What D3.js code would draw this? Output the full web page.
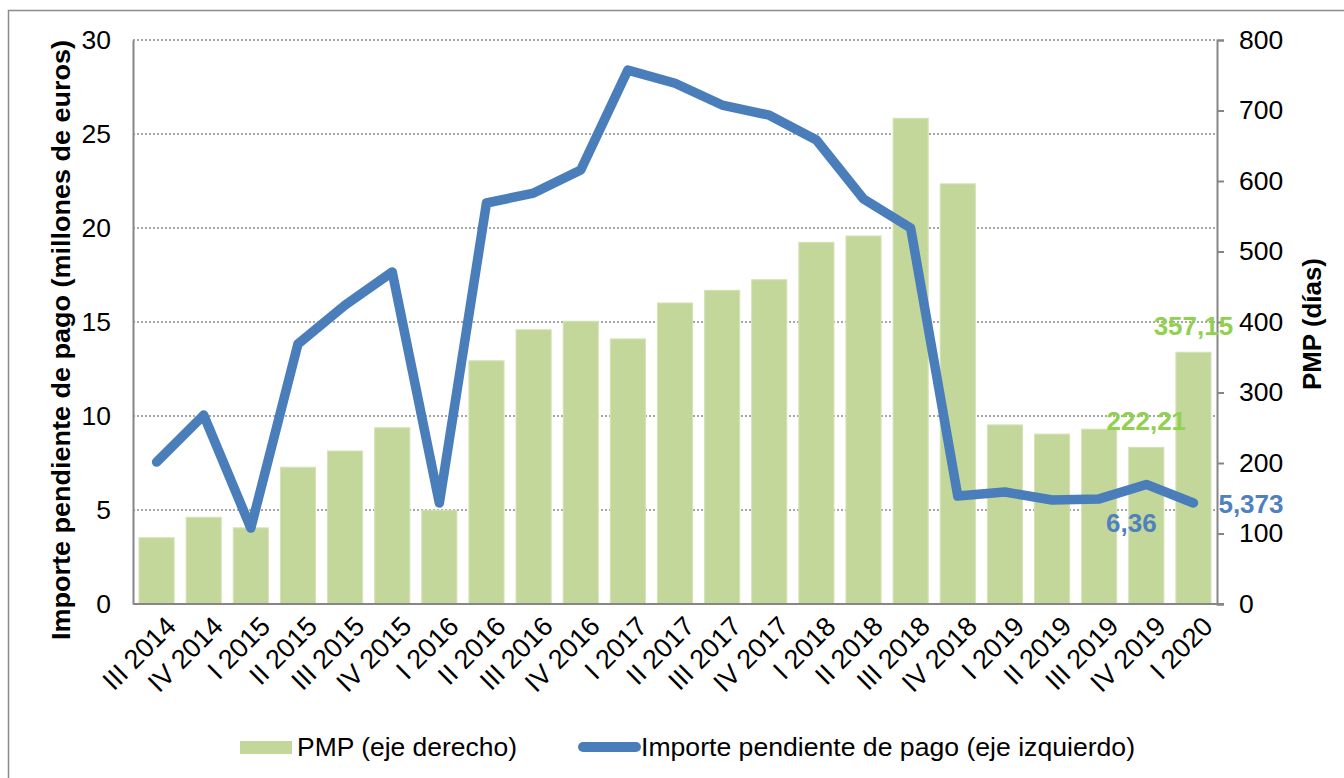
<!DOCTYPE html>
<html><head><meta charset="utf-8">
<script src="https://cdn.jsdelivr.net/npm/d3@7"></script>
<style>
body{margin:0;background:#fff;}
text{font-family:"Liberation Sans",Arial,sans-serif;}
</style></head>
<body><svg id="c" width="1344" height="778"></svg>
<script>
const categories = ["III 2014","IV 2014","I 2015","II 2015","III 2015","IV 2015","I 2016","II 2016","III 2016","IV 2016","I 2017","II 2017","III 2017","IV 2017","I 2018","II 2018","III 2018","IV 2018","I 2019","II 2019","III 2019","IV 2019","I 2020"];
const pmpDays = [94,123,108,194,217,250,133,345,389,401,376,427,445,460,513,522,689,596,254,241,248,222.21,357.15];
const importeMillones = [7.55,10.05,4.04,13.83,15.9,17.66,5.37,21.33,21.86,23.09,28.4,27.7,26.54,26.0,24.68,21.54,20.0,5.74,5.96,5.53,5.59,6.36,5.373];
const leftTicks = [0,5,10,15,20,25,30];
const rightTicks = [0,100,200,300,400,500,600,700,800];
const legendLabels = ["PMP (eje derecho)","Importe pendiente de pago (eje izquierdo)"];
const leftTitle = "Importe pendiente de pago (millones de euros)";
const rightTitle = "PMP (días)";

const svg = d3.select("#c");
const L = 133, R = 1217, T = 40, B = 604;
const green = "#c4d79b", blue = "#4a7ebb", axisCol = "#868686";

// outer border
svg.append("rect").attr("x",8.5).attr("y",10.5).attr("width",1340).attr("height",780)
  .attr("fill","none").attr("stroke","#8c8c8c").attr("stroke-width",1.5);

const x = d3.scaleBand().domain(categories).range([L,R]).paddingInner(0.255).paddingOuter(0.1275);
const yL = d3.scaleLinear().domain([0,30]).range([B,T]);
const yR = d3.scaleLinear().domain([0,800]).range([B,T]);

// gridlines
svg.append("g").selectAll("line").data(leftTicks.filter(d=>d>0)).join("line")
  .attr("x1",L).attr("x2",R).attr("y1",d=>yL(d)).attr("y2",d=>yL(d))
  .attr("stroke","#8a8a8a").attr("stroke-width",1.5).attr("stroke-dasharray","2,2");

// bars
svg.append("g").selectAll("rect").data(pmpDays).join("rect")
  .attr("x",(d,i)=>x(categories[i])).attr("width",x.bandwidth())
  .attr("y",d=>yR(d)).attr("height",d=>B-yR(d))
  .attr("fill",green).attr("stroke","#d4e2b4").attr("stroke-width",1);

// axes
const axL = d3.axisLeft(yL).tickValues(leftTicks).tickSize(0).tickPadding(22);
const gL = svg.append("g").attr("transform",`translate(${L},0)`).call(axL);
const axR = d3.axisRight(yR).tickValues(rightTicks).tickSize(7).tickPadding(15);
const gR = svg.append("g").attr("transform",`translate(${R},0)`).call(axR);
[gL,gR].forEach(g=>{
  g.select(".domain").attr("stroke",axisCol).attr("stroke-width",2);
  g.selectAll(".tick line").attr("stroke",axisCol).attr("stroke-width",2);
  g.selectAll("text").attr("font-size",26.5).attr("fill","#000").attr("font-family","Liberation Sans, Arial, sans-serif");
});
const axB = d3.axisBottom(x).tickSize(0).tickFormat("");
const gB = svg.append("g").attr("transform",`translate(0,${B})`).call(axB);
gB.select(".domain").attr("stroke",axisCol).attr("stroke-width",2).attr("d",`M${L},0H${R+7}`);

// x labels
svg.append("g").selectAll("text").data(categories).join("text")
  .attr("transform",d=>`translate(${x(d)+x.bandwidth()/2+21},${B+24}) rotate(-45)`)
  .attr("text-anchor","end").attr("font-size",27).text(d=>d);

// line
const line = d3.line().x((d,i)=>x(categories[i])+x.bandwidth()/2).y(d=>yL(d));
svg.append("path").datum(importeMillones).attr("d",line)
  .attr("fill","none").attr("stroke",blue).attr("stroke-width",9.5)
  .attr("stroke-linejoin","round").attr("stroke-linecap","round");

// data labels
const n = categories.length;
const cx = i => x(categories[i])+x.bandwidth()/2;
svg.append("text").attr("x",cx(n-1)).attr("y",yR(pmpDays[n-1])-17).attr("text-anchor","middle")
  .attr("font-size",26).attr("font-weight","bold").attr("fill","#92d050").text(d3.format(".2f")(pmpDays[n-1]).replace(".",","));
svg.append("text").attr("x",cx(n-2)).attr("y",yR(pmpDays[n-2])-17).attr("text-anchor","middle")
  .attr("font-size",26).attr("font-weight","bold").attr("fill","#92d050").text(d3.format(".2f")(pmpDays[n-2]).replace(".",","));
svg.append("text").attr("x",cx(n-2)-15).attr("y",yL(importeMillones[n-2])+48).attr("text-anchor","middle")
  .attr("font-size",26).attr("font-weight","bold").attr("fill","#4f81bd").text(String(importeMillones[n-2]).replace(".",","));
svg.append("text").attr("x",cx(n-1)+25).attr("y",yL(importeMillones[n-1])+10).attr("text-anchor","start")
  .attr("font-size",26).attr("font-weight","bold").attr("fill","#4f81bd").text(String(importeMillones[n-1]).replace(".",","));

// axis titles
svg.append("text").attr("transform","translate(70,340) rotate(-90)").attr("text-anchor","middle")
  .attr("font-size",26).attr("font-weight","bold").attr("textLength",600).attr("lengthAdjust","spacingAndGlyphs").text(leftTitle);
svg.append("text").attr("transform","translate(1321,324) rotate(-90)").attr("text-anchor","middle")
  .attr("font-size",26).attr("font-weight","bold").attr("textLength",132).attr("lengthAdjust","spacingAndGlyphs").text(rightTitle);

// legend
const lg = svg.append("g");
lg.append("rect").attr("x",240).attr("y",741).attr("width",52).attr("height",13).attr("fill",green);
lg.append("text").attr("x",297).attr("y",756).attr("font-size",25).attr("textLength",220).attr("lengthAdjust","spacingAndGlyphs").text(legendLabels[0]);
lg.append("line").attr("x1",583).attr("x2",636).attr("y1",747).attr("y2",747).attr("stroke",blue).attr("stroke-width",10).attr("stroke-linecap","round");
lg.append("text").attr("x",641).attr("y",756).attr("font-size",25).attr("textLength",494).attr("lengthAdjust","spacingAndGlyphs").text(legendLabels[1]);
</script></body></html>
